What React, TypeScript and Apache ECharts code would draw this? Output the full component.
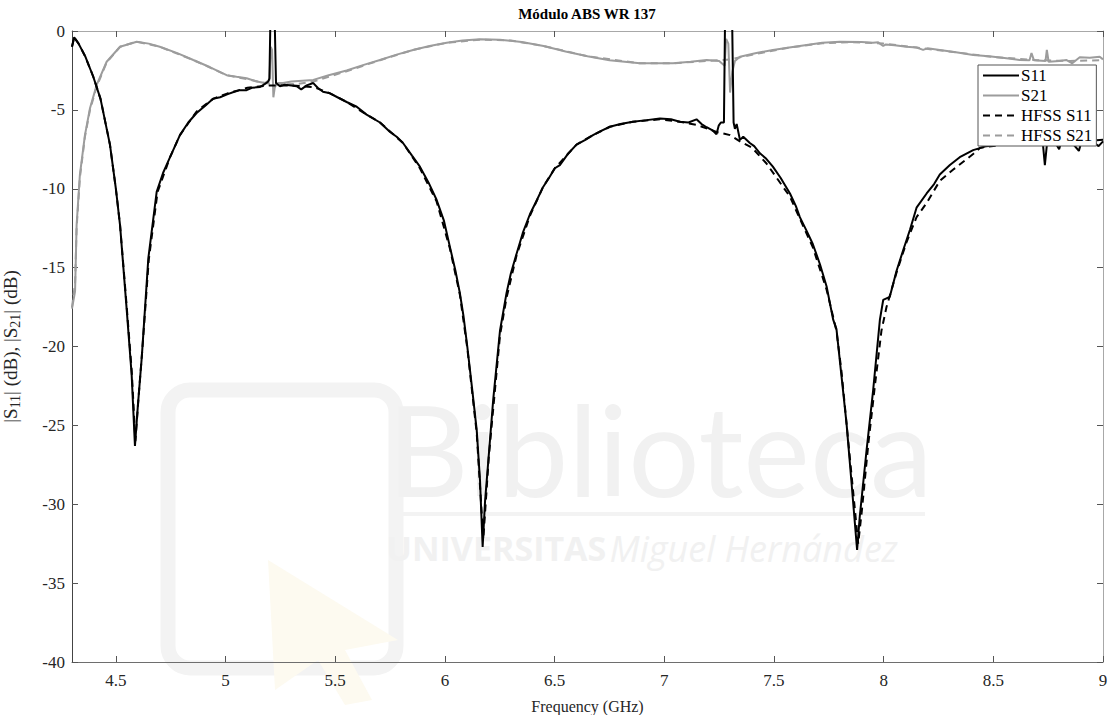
import { useEffect, useRef } from "react";
import * as echarts from "echarts";

// Measured |S11| (dB)
const S11_F = [
  4.3, 4.31, 4.33, 4.36, 4.397, 4.43, 4.473, 4.5, 4.519, 4.549, 4.572, 4.587, 4.6, 4.618, 4.648, 4.686,
  4.715, 4.747, 4.792, 4.83, 4.868, 4.91, 4.943, 4.975, 5.01, 5.04, 5.066, 5.096, 5.12, 5.157, 5.18,
  5.195, 5.2, 5.206, 5.222, 5.23, 5.248, 5.27, 5.3, 5.324, 5.345, 5.37, 5.4, 5.42, 5.444, 5.476, 5.51,
  5.552, 5.598, 5.643, 5.704, 5.75, 5.78, 5.809, 5.85, 5.886, 5.925, 5.962, 5.995, 6.023, 6.048, 6.068,
  6.085, 6.102, 6.125, 6.145, 6.16, 6.172, 6.183, 6.197, 6.22, 6.251, 6.281, 6.3, 6.327, 6.355, 6.388,
  6.42, 6.447, 6.475, 6.501, 6.524, 6.56, 6.6, 6.64, 6.675, 6.71, 6.752, 6.8, 6.857, 6.92, 6.98, 7.03,
  7.071, 7.11, 7.147, 7.17, 7.193, 7.22, 7.238, 7.248, 7.258, 7.272, 7.278, 7.308, 7.316, 7.322, 7.33,
  7.345, 7.36, 7.39, 7.41, 7.436, 7.465, 7.495, 7.53, 7.573, 7.6, 7.618, 7.65, 7.677, 7.71, 7.74, 7.77,
  7.785, 7.808, 7.831, 7.854, 7.879, 7.891, 7.922, 7.952, 7.983, 7.998, 8.028, 8.059, 8.089, 8.12, 8.15,
  8.196, 8.23, 8.256, 8.302, 8.347, 8.408, 8.469, 8.52, 8.6, 8.68, 8.712, 8.725, 8.735, 8.745, 8.78, 8.8,
  8.81, 8.86, 8.89, 8.9, 8.95, 8.98, 9.0,
];
const S11_DB = [
  -1.0, -0.4, -0.8, -1.6, -2.9, -4.3, -7.2, -10.0, -12.3, -17.6, -21.8, -26.3, -23.8, -20.7, -14.4, -10.2,
  -9.0, -8.0, -6.6, -5.8, -5.2, -4.7, -4.3, -4.2, -4.0, -3.85, -3.75, -3.75, -3.6, -3.55, -3.35,
  -3.2, -3.0, 2.0, 2.0, -3.3, -3.5, -3.4, -3.45, -3.5, -3.7, -3.45, -3.3, -3.6, -3.85, -3.95, -4.2,
  -4.5, -4.8, -5.3, -5.8, -6.4, -6.7, -7.1, -7.9, -8.6, -9.6, -10.7, -12.0, -13.7, -15.2, -16.6,
  -18.1, -20.0, -22.8, -25.3, -28.5, -32.7, -29.8, -27.4, -23.4, -19.0, -16.6, -15.4, -14.1, -12.8, -11.6,
  -10.7, -9.9, -9.3, -8.7, -8.5, -7.8, -7.2, -6.9, -6.6, -6.35, -6.07, -5.9, -5.75, -5.65, -5.55, -5.6,
  -5.75, -5.8, -5.6, -5.9, -6.1, -6.3, -6.55, -6.0, -5.8, -5.8, 2.0, 2.0, -5.8, -6.2, -5.9,
  -6.9, -6.7, -7.1, -7.3, -7.75, -8.1, -8.6, -9.3, -10.3, -11.1, -11.8, -12.7, -13.5, -14.8, -16.2, -18.3,
  -18.9, -21.9, -24.9, -28.7, -32.9, -30.8, -26.6, -22.8, -18.3, -17.05, -16.85, -15.2, -13.9, -12.6, -11.2,
  -10.3, -9.7, -9.1, -8.5, -8.0, -7.55, -7.3, -7.2, -7.1, -7.1, -7.15, -7.0, -8.5, -7.1, -7.0, -7.5,
  -7.0, -7.1, -7.6, -7.1, -7.0, -7.3, -7.0,
];

// Measured |S21| (dB)
const S21_F = [
  4.3, 4.314, 4.321, 4.336, 4.359, 4.382, 4.413, 4.458, 4.519, 4.595, 4.65, 4.7, 4.78, 4.853, 4.93, 5.005,
  5.05, 5.096, 5.142, 5.18, 5.2, 5.206, 5.212, 5.218, 5.224, 5.235, 5.262, 5.3, 5.4, 5.47, 5.552, 5.63,
  5.704, 5.78, 5.855, 5.93, 6.008, 6.08, 6.16, 6.25, 6.35, 6.45, 6.55, 6.65, 6.75, 6.889, 6.96, 7.04,
  7.12, 7.193, 7.25, 7.275, 7.282, 7.292, 7.3, 7.31, 7.322, 7.345, 7.42, 7.495, 7.57, 7.649, 7.72, 7.8,
  7.9, 7.951, 7.975, 7.998, 8.01, 8.05, 8.104, 8.15, 8.18, 8.2, 8.256, 8.33, 8.408, 8.48, 8.56, 8.62,
  8.665, 8.674, 8.685, 8.738, 8.744, 8.752, 8.8, 8.834, 8.86, 8.894, 8.94, 8.985, 9.0,
];
const S21_DB = [
  -17.6, -16.5, -12.3, -9.1, -6.6, -4.9, -3.4, -1.95, -1.0, -0.68, -0.8, -1.0, -1.4, -1.84, -2.3, -2.8,
  -2.9, -3.0, -3.2, -3.3, -3.1, -1.0, -1.2, -4.2, -3.6, -3.3, -3.3, -3.2, -3.1, -2.8, -2.5, -2.15,
  -1.84, -1.5, -1.2, -0.95, -0.74, -0.6, -0.53, -0.55, -0.7, -0.95, -1.3, -1.6, -1.85, -2.05, -2.05, -2.05,
  -1.95, -1.84, -1.9, -2.2, -0.5, -0.8, -3.9, -2.6, -1.9, -1.63, -1.4, -1.2, -1.05, -0.89, -0.75, -0.68,
  -0.7, -0.74, -0.72, -0.95, -0.85, -0.9, -1.0, -1.05, -1.2, -1.1, -1.2, -1.35, -1.52, -1.6, -1.73, -1.84,
  -1.85, -1.4, -1.85, -1.9, -1.2, -1.95, -1.9, -1.84, -2.05, -1.67, -1.7, -1.63, -1.8,
];

// Simulated |S11| (dB), HFSS
const HFSS_S11_F = [
  4.3, 4.31, 4.33, 4.36, 4.397, 4.43, 4.473, 4.5, 4.519, 4.549, 4.572, 4.589, 4.603, 4.62, 4.65, 4.69,
  4.747, 4.792, 4.868, 4.943, 5.01, 5.1, 5.2, 5.3, 5.4, 5.476, 5.552, 5.643, 5.704, 5.809, 5.886, 5.962,
  6.023, 6.068, 6.102, 6.145, 6.175, 6.2, 6.251, 6.281, 6.327, 6.388, 6.447, 6.501, 6.6, 6.675, 6.752,
  6.857, 6.98, 7.071, 7.147, 7.238, 7.3, 7.345, 7.4, 7.466, 7.573, 7.618, 7.677, 7.74, 7.785, 7.808,
  7.854, 7.884, 7.9, 7.93, 7.96, 7.99, 8.013, 8.059, 8.104, 8.15, 8.196, 8.256, 8.316, 8.408, 8.44, 8.55,
  8.7, 8.85, 9.0,
];
const HFSS_S11_DB = [
  -1.0, -0.4, -0.8, -1.6, -2.9, -4.3, -7.2, -10.0, -12.3, -17.4, -21.5, -26.0, -23.3, -20.3, -14.5, -10.2,
  -8.0, -6.6, -5.1, -4.3, -3.95, -3.6, -3.45, -3.45, -3.55, -3.95, -4.5, -5.3, -5.8, -7.1, -8.7, -10.8,
  -13.8, -16.7, -20.1, -25.5, -32.2, -27.0, -19.3, -16.9, -14.2, -11.7, -9.9, -8.7, -7.2, -6.6, -6.07,
  -5.75, -5.6, -5.75, -5.95, -6.4, -6.6, -7.0, -7.4, -8.4, -10.5, -11.9, -13.7, -16.4, -19.0, -21.6,
  -28.2, -32.5, -30.5, -26.2, -22.5, -19.0, -17.5, -15.3, -13.4, -11.8, -10.9, -9.5, -8.8, -7.8, -7.4, -7.2,
  -7.05, -7.0, -6.9,
];

// Simulated |S21| (dB), HFSS
const HFSS_S21_F = [
  4.3, 4.314, 4.321, 4.336, 4.359, 4.382, 4.413, 4.458, 4.519, 4.595, 4.7, 4.853, 5.005, 5.096, 5.18,
  5.25, 5.33, 5.4, 5.47, 5.552, 5.704, 5.855, 6.008, 6.16, 6.3, 6.45, 6.65, 6.889, 7.04, 7.193, 7.3,
  7.42, 7.57, 7.72, 7.85, 8.0, 8.15, 8.33, 8.5, 8.7, 8.85, 9.0,
];
const HFSS_S21_DB = [
  -17.5, -16.0, -12.5, -9.3, -6.7, -5.0, -3.5, -2.0, -1.0, -0.68, -1.0, -1.84, -2.8, -3.05, -3.3,
  -3.4, -3.35, -3.2, -2.9, -2.55, -1.85, -1.2, -0.75, -0.55, -0.6, -0.95, -1.6, -2.05, -2.05, -1.9, -1.8,
  -1.45, -1.05, -0.78, -0.7, -0.8, -1.05, -1.35, -1.65, -1.85, -1.9, -1.85,
];

const X_TICKS = [4.5, 5, 5.5, 6, 6.5, 7, 7.5, 8, 8.5, 9];
const LEGEND_NAMES = ["S11", "S21", "HFSS S11", "HFSS S21"];

const SERIF = "'Liberation Serif', 'Times New Roman', serif";
const GRAY = "#9c9c9c";
const FRAME = "#6e6e6e";
const TEXT = "#262626";

const pairs = (f: number[], v: number[]) => f.map((x, i) => [x, v[i]]);

export default function App() {
  const ref = useRef<HTMLDivElement>(null);

  useEffect(() => {
    document.body.style.margin = "0";
    const chart = echarts.init(ref.current!, null, { renderer: "svg" });

    const xCommon = {
      type: "value" as const,
      min: 4.3,
      max: 9,
      splitLine: { show: false },
      axisLine: { show: true, onZero: false, lineStyle: { color: FRAME, width: 1 } },
      axisTick: { show: true, inside: true, length: 6, customValues: X_TICKS, lineStyle: { color: "#555" } },
    };
    const yCommon = {
      type: "value" as const,
      min: -40,
      max: 0,
      interval: 5,
      splitLine: { show: false },
      axisLine: { show: true, onZero: false, lineStyle: { color: FRAME, width: 1 } },
      axisTick: { show: true, inside: true, length: 6, lineStyle: { color: "#555" } },
    };

    chart.setOption({
      animation: false,
      backgroundColor: "#ffffff",
      grid: { left: 72, top: 31, width: 1031, height: 631, containLabel: false, outerBoundsMode: "none" },
      graphic: [
        // faint library watermark behind the curves
        {
          type: "group",
          silent: true,
          z: -10,
          children: [
            {
              type: "rect",
              shape: { x: 168, y: 390, width: 228, height: 278, r: 22 },
              style: { fill: "none", stroke: "#f3f3f3", lineWidth: 15 },
            },
            {
              type: "polygon",
              shape: { points: [[268, 560], [398, 640], [345, 650], [372, 700], [345, 705], [318, 660], [275, 690]] },
              style: { fill: "#fdfaf0", stroke: "none" },
            },
            {
              type: "text",
              x: 660,
              y: 448,
              style: {
                text: "Biblioteca",
                font: "400 126px Lato, 'Open Sans', sans-serif",
                fill: "#f1f1f1",
                align: "center",
                verticalAlign: "middle",
              },
            },
            {
              type: "rect",
              shape: { x: 395, y: 512, width: 530, height: 4 },
              style: { fill: "#f3f3f3" },
            },
            {
              type: "text",
              x: 642,
              y: 548,
              style: {
                text: "{a|UNIVERSITAS} {b|Miguel Hernández}",
                align: "center",
                verticalAlign: "middle",
                rich: {
                  a: { font: "bold 34px 'Open Sans', sans-serif", fill: "#f1f1f1" },
                  b: { font: "italic 36px 'Open Sans', sans-serif", fill: "#f1f1f1" },
                },
              },
            },
          ],
        },
        {
          type: "text",
          x: 587,
          y: 14,
          z: 10,
          style: {
            text: "Módulo ABS WR 137",
            font: `bold 15px ${SERIF}`,
            fill: "#000",
            align: "center",
            verticalAlign: "middle",
          },
        },
      ],
      legend: {
        show: true,
        data: LEGEND_NAMES,
        orient: "vertical",
        left: 978,
        top: 65,
        itemWidth: 36,
        itemHeight: 14,
        itemGap: 3,
        padding: [2, 4, 2, 4],
        backgroundColor: "#ffffff",
        borderColor: "#555",
        borderWidth: 1,
        borderRadius: 0,
        itemStyle: { opacity: 0 },
        textStyle: { fontFamily: SERIF, fontSize: 17, lineHeight: 17, color: "#000", padding: [0, 0, 0, -3] },
        z: 20,
      },
      xAxis: [
        {
          ...xCommon,
          position: "bottom",
          name: "Frequency (GHz)",
          nameLocation: "middle",
          nameGap: 36,
          nameTextStyle: { fontFamily: SERIF, fontSize: 16, color: TEXT },
          axisLabel: {
            show: true,
            customValues: X_TICKS,
            margin: 10,
            fontFamily: SERIF,
            fontSize: 17,
            color: TEXT,
          },
        },
        {
          ...xCommon,
          position: "top",
          axisLine: { show: true, onZero: false, lineStyle: { color: "#a8a8a8", width: 1 } },
          axisLabel: { show: false },
        },
      ],
      yAxis: [
        {
          ...yCommon,
          position: "left",
          axisLine: { show: true, onZero: false, lineStyle: { color: "#444", width: 1 } },
          name: "|S{s|11}| (dB), |S{s|21}| (dB)",
          nameLocation: "middle",
          nameRotate: 90,
          nameGap: 50,
          nameTextStyle: {
            fontFamily: SERIF,
            fontSize: 19,
            color: TEXT,
            lineHeight: 24,
            rich: {
              s: { fontFamily: SERIF, fontSize: 14, color: TEXT, lineHeight: 14, verticalAlign: "bottom" },
            },
          },
          axisLabel: { show: true, margin: 7, fontFamily: SERIF, fontSize: 17, color: TEXT },
        },
        {
          ...yCommon,
          position: "right",
          axisLine: { show: true, onZero: false, lineStyle: { color: "#a8a8a8", width: 1 } },
          axisLabel: { show: false },
        },
      ],
      series: [
        {
          name: "S21",
          type: "line",
          data: pairs(S21_F, S21_DB),
          symbol: "none",
          clip: true,
          lineStyle: { color: GRAY, width: 2 },
          itemStyle: { color: GRAY },
          z: 2,
        },
        {
          name: "HFSS S21",
          type: "line",
          data: pairs(HFSS_S21_F, HFSS_S21_DB),
          symbol: "none",
          clip: true,
          lineStyle: { color: GRAY, width: 2, type: [7, 5] },
          itemStyle: { color: GRAY },
          z: 2,
        },
        {
          name: "HFSS S11",
          type: "line",
          data: pairs(HFSS_S11_F, HFSS_S11_DB),
          symbol: "none",
          clip: true,
          lineStyle: { color: "#000", width: 2, type: [7, 5] },
          itemStyle: { color: "#000" },
          z: 3,
        },
        {
          name: "S11",
          type: "line",
          data: pairs(S11_F, S11_DB),
          symbol: "none",
          clip: true,
          lineStyle: { color: "#000", width: 2 },
          itemStyle: { color: "#000" },
          z: 4,
        },
      ],
    });

    return () => chart.dispose();
  }, []);

  return <div ref={ref} style={{ width: 1110, height: 715 }} />;
}
